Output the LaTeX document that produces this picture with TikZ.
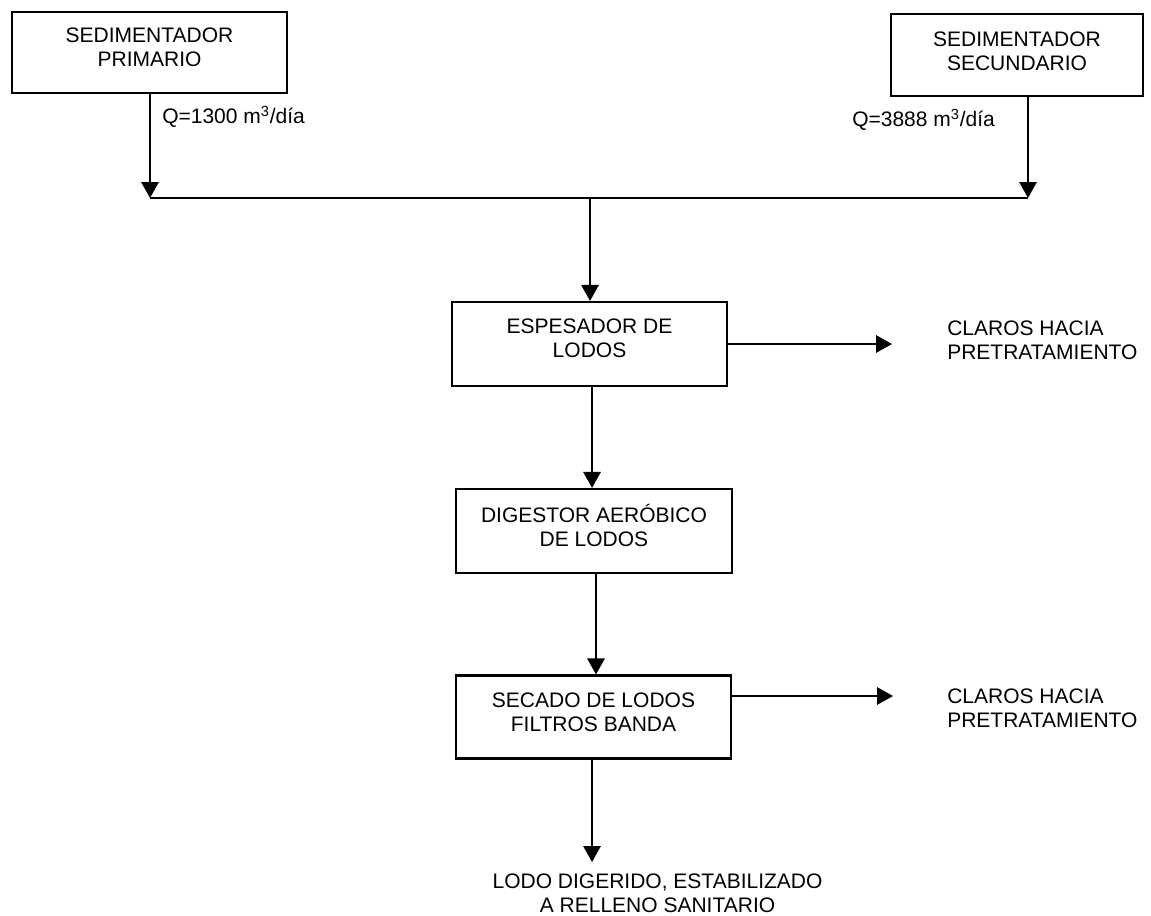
\documentclass[tikz,border=0pt]{standalone}
\usepackage{fontspec}
\setmainfont{Liberation Sans}
\usetikzlibrary{arrows.meta}
\tikzset{
  box/.style={draw, line width=1.6pt, inner sep=0pt},
  txt/.style={font=\fontsize{15.75pt}{18pt}\selectfont, align=center, inner sep=0pt},
  ltxt/.style={font=\fontsize{15.75pt}{18pt}\selectfont, align=left, inner sep=0pt, anchor=west},
  flow/.style={line width=1.6pt},
  arr/.style={line width=1.6pt, -{Triangle[length=12pt, width=13pt]}}
}
\begin{document}
\begin{tikzpicture}[x=0.75pt, y=-0.75pt]
\useasboundingbox (0,0) rectangle (1151,915);
% boxes
\node[box, minimum width=275*0.75pt, minimum height=81*0.75pt] (sp) at (149.5,52.5) {};
\node[box, minimum width=252*0.75pt, minimum height=82*0.75pt] (ss) at (1017,55) {};
\node[box, minimum width=275*0.75pt, minimum height=84*0.75pt] (esp) at (589.5,344) {};
\node[box, minimum width=276*0.75pt, minimum height=84*0.75pt] (dig) at (594,531) {};
\node[box, minimum width=275*0.75pt, minimum height=83*0.75pt] (sec) at (593.5,717) {};
% box texts
\node[txt] (spT) at (149.5,47) {SEDIMENTADOR\\PRIMARIO};
\node[txt] (ssT) at (1017,51) {SEDIMENTADOR\\SECUNDARIO};
\node[txt] (espT) at (589.5,338) {ESPESADOR DE\\LODOS};
\node[txt] (digT) at (594,525) {DIGESTOR AERÓBICO\\DE LODOS};
\node[txt] (secT) at (593.5,712) {SECADO DE LODOS\\FILTROS BANDA};
% free labels
\node[ltxt] (q1) at (162,117) {Q=1300 m\textsuperscript{3}/día};
\node[ltxt] (q2) at (852,120) {Q=3888 m\textsuperscript{3}/día};
\node[ltxt] (cl1) at (947,340) {CLAROS HACIA\\PRETRATAMIENTO};
\node[ltxt] (cl2) at (947,708.5) {CLAROS HACIA\\PRETRATAMIENTO};
\node[txt] (fin) at (657.5,893) {LODO DIGERIDO, ESTABILIZADO\\A RELLENO SANITARIO};
% coordinates
\coordinate (j1) at (150,198);
\coordinate (j2) at (1028,198);
\coordinate (jm) at (590,198);
\coordinate (a1) at (892,344);
\coordinate (a2) at (893,696);
\coordinate (s2) at (730.5,696);
\coordinate (e1) at (592,862);
% connectors
\draw[arr] (sp.south -| j1) -- (j1);
\draw[arr] (ss.south -| j2) -- (j2);
\draw[flow] (j1) -- (j2);
\draw[arr] (jm) -- (jm |- esp.north);
\draw[arr] (esp.south -| e1) -- (dig.north -| e1);
\draw[arr] (dig.south -| 596,0) -- (sec.north -| 596,0);
\draw[arr] (esp.east) -- (a1);
\draw[arr] (s2) -- (a2);
\draw[arr] (sec.south -| e1) -- (e1);
\end{tikzpicture}
\end{document}
